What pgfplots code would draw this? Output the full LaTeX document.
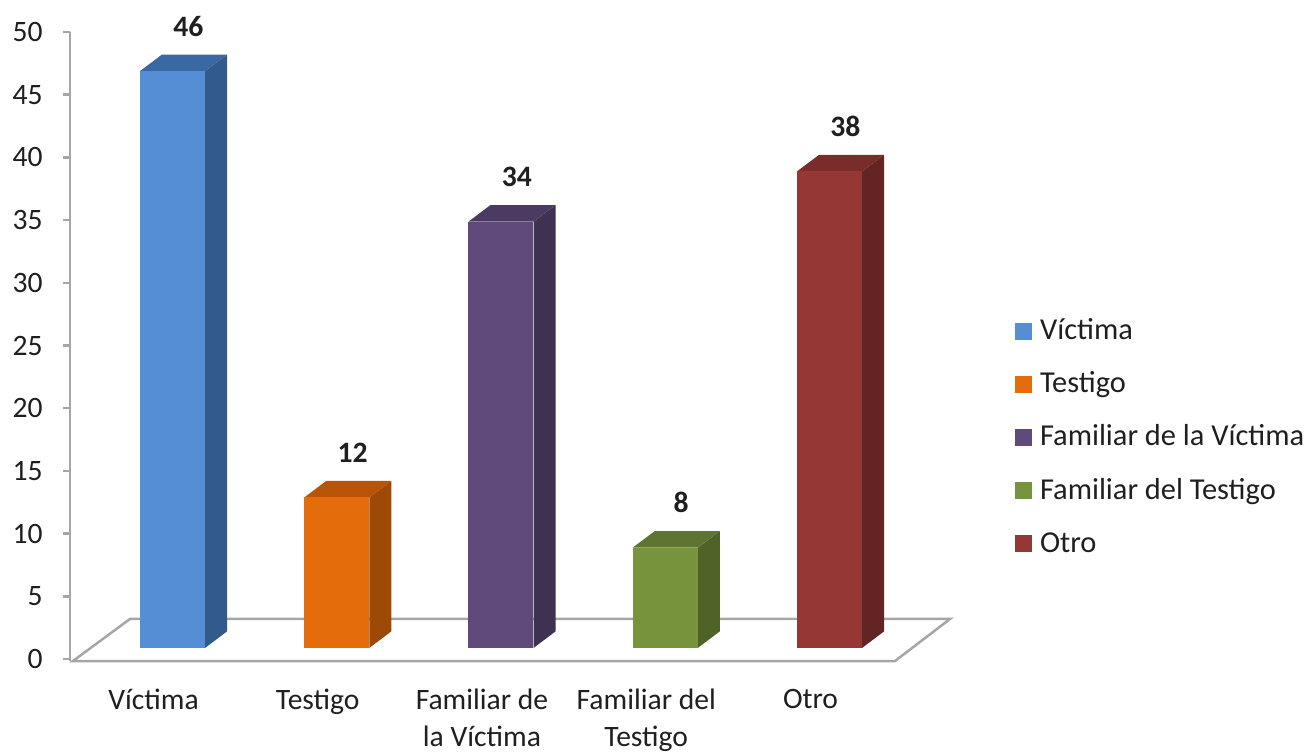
\documentclass[border=0pt]{standalone}
\usepackage{pgfplots}
\pgfplotsset{compat=1.18}
\usepackage{fontspec}
\setmainfont{Carlito}
\newcommand\fs{\fontsize{14.8pt}{18.5pt}\selectfont}
\newcommand\fl{\fontsize{15.2pt}{18.5pt}\selectfont}
\definecolor{vicF}{HTML}{558ED5}\definecolor{vicT}{HTML}{3A68A3}\definecolor{vicS}{HTML}{325A8C}
\definecolor{tesF}{HTML}{E46C0A}\definecolor{tesT}{HTML}{B95508}\definecolor{tesS}{HTML}{9E4A07}
\definecolor{fvF}{HTML}{604A7B}\definecolor{fvT}{HTML}{4B3A62}\definecolor{fvS}{HTML}{3F3152}
\definecolor{ftF}{HTML}{77933C}\definecolor{ftT}{HTML}{5E7530}\definecolor{ftS}{HTML}{4F6228}
\definecolor{otF}{HTML}{953735}\definecolor{otT}{HTML}{7A2C2A}\definecolor{otS}{HTML}{632523}
\definecolor{axgray}{HTML}{A6A6A6}
\definecolor{txt}{HTML}{1F1F1F}
\begin{document}
\begin{tikzpicture}
\useasboundingbox (-35pt,-45.5pt) rectangle (619pt,330.5pt);
% display axis: ticks, floor, category labels
\begin{axis}[
  at={(0,0)}, anchor=south west,
  x=82.125pt, y=6.27pt,
  xmin=-0.624, xmax=4.734, ymin=-0.16, ymax=50,
  clip=false,
  axis y line*=left, axis x line*=bottom,
  x axis line style={draw=none},
  y axis line style={axgray, line width=1.25pt},
  ytick={0,5,...,50},
  xtick={0,1,2,3,4},
  xticklabels={V\'ictima, Testigo, {Familiar de\\la V\'ictima}, {Familiar del\\Testigo}, Otro},
  tick align=outside,
  major tick length=3.5pt,
  ytick style={axgray, line width=1.25pt},
  xtick style={draw=none},
  /pgf/number format/assume math mode=true,
  yticklabel style={font=\fs, text=txt, anchor=east, inner sep=0pt, xshift=-10pt},
  xticklabel style={font=\fs, text=txt, align=center, anchor=north, inner sep=0pt, yshift=-10.5pt, xshift=-9.5pt},
]
\addplot[draw=axgray, line width=1.25pt] coordinates {(-0.606,-0.16) (-0.259,3.19) (4.734,3.19) (4.399,-0.16)} -- cycle;
\end{axis}
% bar axis: bars, 3D faces, data labels, legend
\begin{axis}[
  at={(0,0)}, anchor=south west,
  x=82.125pt, y=6.27pt,
  xmin=-0.624, xmax=4.734, ymin=-1.04, ymax=49.12,
  clip=false, hide axis,
  /pgf/number format/assume math mode=true,
  every node near coord/.append style={font=\fs\bfseries, text=txt, anchor=center, xshift=8pt, yshift=22.5pt},
  legend image code/.code={\fill[#1] (0pt,-3.5pt) rectangle (8.5pt,5pt);},
  legend cell align=left,
  legend style={at={(1,0.353)}, anchor=west, xshift=32.5pt, draw=none, fill=none,
    inner sep=0pt, outer sep=0pt, font=\fl, text=txt, row sep=13.6pt,
    nodes={inner sep=0pt, text height=10pt, text depth=3pt},
    /tikz/every odd column/.append style={column sep=4pt}},
]
% side and top faces
\addplot[fill=vicS, draw=none, forget plot] coordinates {(0.198,0) (0.332,1.32) (0.332,47.32) (0.198,46)} -- cycle;
\addplot[fill=vicT, draw=none, forget plot] coordinates {(-0.198,46) (0.198,46) (0.332,47.32) (-0.064,47.32)} -- cycle;
\addplot[fill=tesS, draw=none, forget plot] coordinates {(1.198,0) (1.332,1.32) (1.332,13.32) (1.198,12)} -- cycle;
\addplot[fill=tesT, draw=none, forget plot] coordinates {(0.802,12) (1.198,12) (1.332,13.32) (0.936,13.32)} -- cycle;
\addplot[fill=fvS, draw=none, forget plot] coordinates {(2.198,0) (2.332,1.32) (2.332,35.32) (2.198,34)} -- cycle;
\addplot[fill=fvT, draw=none, forget plot] coordinates {(1.802,34) (2.198,34) (2.332,35.32) (1.936,35.32)} -- cycle;
\addplot[fill=ftS, draw=none, forget plot] coordinates {(3.198,0) (3.332,1.32) (3.332,9.32) (3.198,8)} -- cycle;
\addplot[fill=ftT, draw=none, forget plot] coordinates {(2.802,8) (3.198,8) (3.332,9.32) (2.936,9.32)} -- cycle;
\addplot[fill=otS, draw=none, forget plot] coordinates {(4.198,0) (4.332,1.32) (4.332,39.32) (4.198,38)} -- cycle;
\addplot[fill=otT, draw=none, forget plot] coordinates {(3.802,38) (4.198,38) (4.332,39.32) (3.936,39.32)} -- cycle;
% front faces (data)
\addplot[ybar, bar width=32.5pt, bar shift=0pt, fill=vicF, draw=none, nodes near coords] coordinates {(0,46)};
\addplot[ybar, bar width=32.5pt, bar shift=0pt, fill=tesF, draw=none, nodes near coords] coordinates {(1,12)};
\addplot[ybar, bar width=32.5pt, bar shift=0pt, fill=fvF, draw=none, nodes near coords] coordinates {(2,34)};
\addplot[ybar, bar width=32.5pt, bar shift=0pt, fill=ftF, draw=none, nodes near coords] coordinates {(3,8)};
\addplot[ybar, bar width=32.5pt, bar shift=0pt, fill=otF, draw=none, nodes near coords] coordinates {(4,38)};
\legend{V\'ictima, Testigo, Familiar de la V\'ictima, Familiar del Testigo, Otro}
\end{axis}
\end{tikzpicture}
\end{document}
